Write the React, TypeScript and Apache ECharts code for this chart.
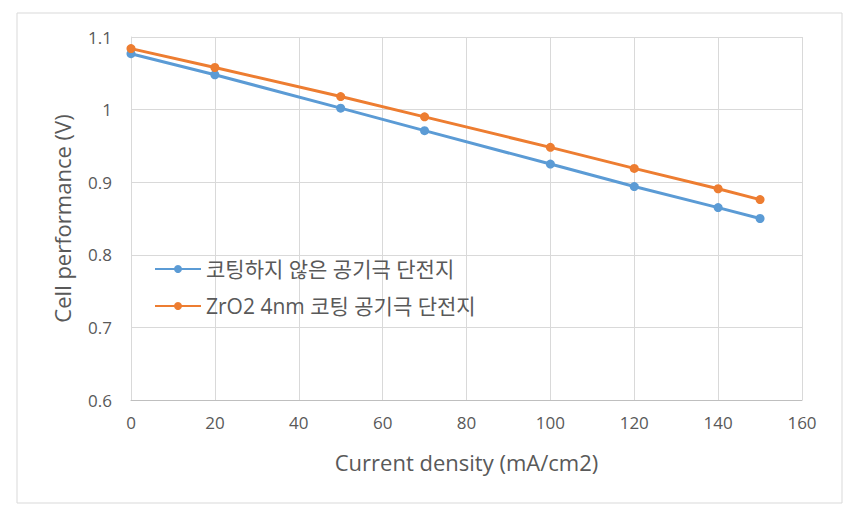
import React, { useEffect, useRef } from "react";
import * as echarts from "echarts";

const currentDensity = [0, 20, 50, 70, 100, 120, 140, 150];
const uncoated = [1.077, 1.048, 1.002, 0.971, 0.925, 0.894, 0.865, 0.850];
const zro2Coated = [1.084, 1.058, 1.018, 0.990, 0.948, 0.919, 0.891, 0.876];
const seriesNames = ["코팅하지 않은 공기극 단전지", "ZrO2 4nm 코팅 공기극 단전지"];

const FONT = "'Open Sans', 'Noto Sans CJK KR', sans-serif";
const TXT = "#595959";

export default function App() {
  const ref = useRef<HTMLDivElement>(null);
  useEffect(() => {
    const chart = echarts.init(ref.current!, null, { renderer: "svg" });
    chart.setOption({
      animation: false,
      backgroundColor: "#ffffff",
      textStyle: { fontFamily: FONT },
      graphic: [
        {
          type: "rect",
          shape: { x: 17, y: 13, width: 825, height: 490 },
          style: { fill: "none", stroke: "#d9d9d9", lineWidth: 1 },
          silent: true,
        },
      ],
      grid: { left: 131, right: 59, top: 37, bottom: 117 },
      legend: {
        orient: "vertical",
        left: 154,
        top: 257,
        padding: 0,
        itemGap: 13,
        itemWidth: 46,
        itemHeight: 10,
        data: seriesNames,
        textStyle: { color: TXT, fontSize: 21, lineHeight: 24, fontFamily: FONT },
      },
      xAxis: {
        type: "value",
        min: 0,
        max: 160,
        interval: 20,
        name: "Current density (mA/cm2)",
        nameLocation: "middle",
        nameGap: 51,
        nameTextStyle: { color: TXT, fontSize: 22, fontFamily: FONT },
        axisLine: { show: true, lineStyle: { color: "#bfbfbf" } },
        axisTick: { show: false },
        axisLabel: { color: TXT, fontSize: 17, margin: 14, fontFamily: FONT },
        splitLine: { show: true, lineStyle: { color: "#d9d9d9" } },
      },
      yAxis: {
        type: "value",
        min: 0.6,
        max: 1.1,
        interval: 0.1,
        name: "Cell performance (V)",
        nameLocation: "middle",
        nameGap: 58,
        nameTextStyle: { color: TXT, fontSize: 22, fontFamily: FONT },
        axisLine: { show: true, lineStyle: { color: "#d9d9d9" } },
        axisTick: { show: false },
        axisLabel: {
          color: TXT,
          fontSize: 17,
          margin: 19,
          fontFamily: FONT,
          formatter: (v: number) => String(+v.toFixed(1)),
        },
        splitLine: { show: true, lineStyle: { color: "#d9d9d9" } },
      },
      series: [
        {
          name: seriesNames[0],
          type: "line",
          data: currentDensity.map((x, i) => [x, uncoated[i]]),
          symbol: "circle",
          symbolSize: 9,
          itemStyle: { color: "#5B9BD5" },
          lineStyle: { color: "#5B9BD5", width: 3 },
        },
        {
          name: seriesNames[1],
          type: "line",
          data: currentDensity.map((x, i) => [x, zro2Coated[i]]),
          symbol: "circle",
          symbolSize: 9,
          itemStyle: { color: "#ED7D31" },
          lineStyle: { color: "#ED7D31", width: 3 },
        },
      ],
    });
    return () => chart.dispose();
  }, []);
  return (
    <div
      ref={ref}
      style={{ position: "fixed", left: 0, top: 0, width: 861, height: 517 }}
    />
  );
}
